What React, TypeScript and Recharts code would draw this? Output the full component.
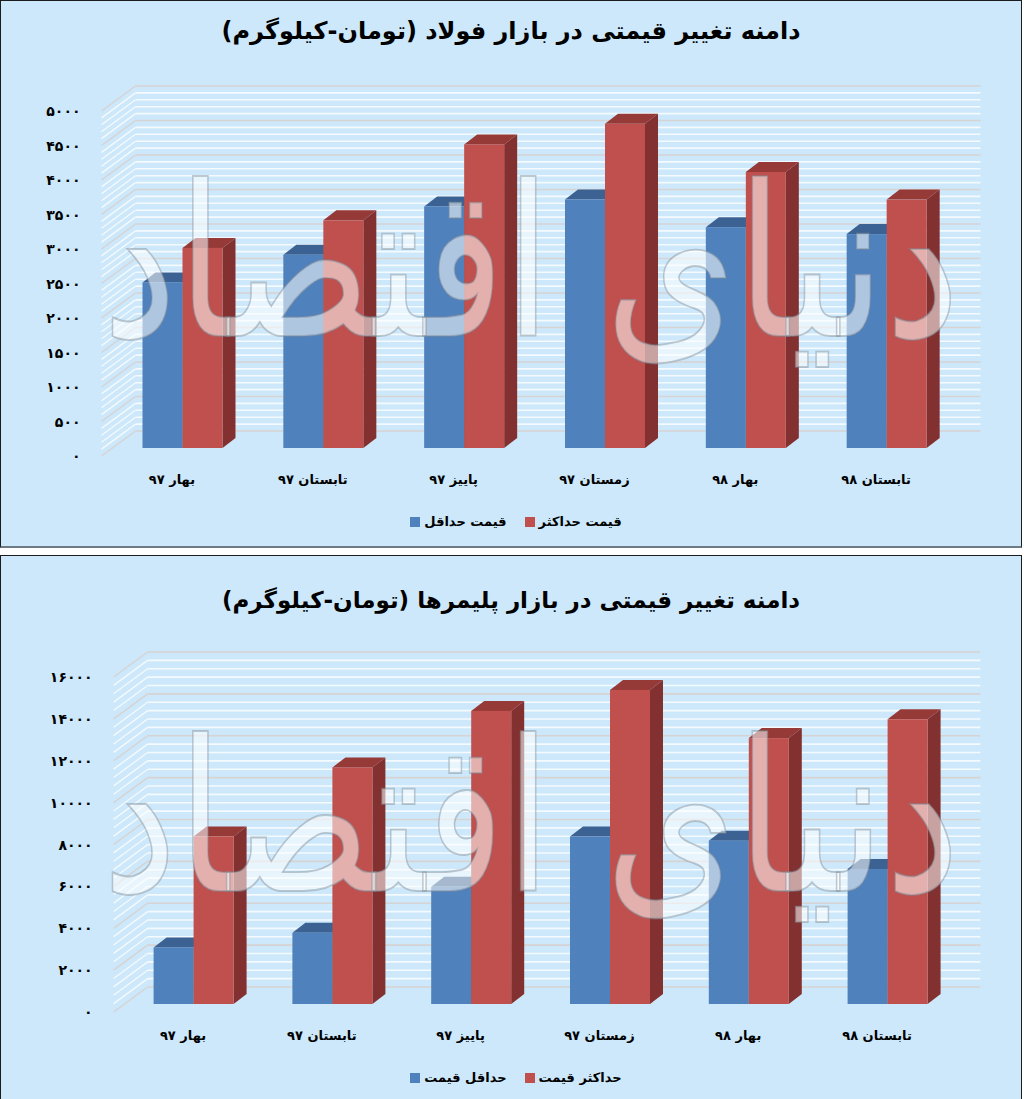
import { Bar, BarChart, XAxis, YAxis } from "recharts";

// Two 3D-look bar charts (steel / polymers), min vs max price per season.

const categories = ["بهار ۹۷", "تابستان ۹۷", "پاییز ۹۷", "زمستان ۹۷", "بهار ۹۸", "تابستان ۹۸"];

const steelMin = [2400, 2800, 3500, 3600, 3200, 3100];
const steelMax = [2900, 3300, 4400, 4700, 4000, 3600];
const steelTicks = [0, 500, 1000, 1500, 2000, 2500, 3000, 3500, 4000, 4500, 5000];
const steelTickLabels = ["۰", "۵۰۰", "۱۰۰۰", "۱۵۰۰", "۲۰۰۰", "۲۵۰۰", "۳۰۰۰", "۳۵۰۰", "۴۰۰۰", "۴۵۰۰", "۵۰۰۰"];

const polymerMin = [2700, 3400, 5600, 8000, 7800, 6450];
const polymerMax = [8000, 11300, 14000, 15000, 12700, 13600];
const polymerTicks = [0, 2000, 4000, 6000, 8000, 10000, 12000, 14000, 16000];
const polymerTickLabels = ["۰", "۲۰۰۰", "۴۰۰۰", "۶۰۰۰", "۸۰۰۰", "۱۰۰۰۰", "۱۲۰۰۰", "۱۴۰۰۰", "۱۶۰۰۰"];

const FONT = '"DejaVu Sans", Tahoma, sans-serif';
const BG = "#cce8fa";
const W = 1020;
const H = 545;
const AXIS_W = 60;
const AXIS_H = 30;

// depth offsets relative to the bars' front plane
const FLOOR_DX = -11;
const FLOOR_DY = 8;
const WALL_DX = 23;
const WALL_DY = -17;
const BOX_DX = 13;
const BOX_DY = 10;

const BLUE = { front: "#4f81bd", top: "#3b6292", side: "#2f4f78" };
const RED = { front: "#c0504d", top: "#963a38", side: "#833130" };

type Layout = {
  top: number;
  bottom: number;
  left: number;
  right: number;
  max: number;
  minor: number;
  ticks: number[];
  labels: string[];
  titleY: number;
  titleSize: number;
};

function Box3D(props: any) {
  const { x, y, width, height, colors } = props;
  if (!height || height <= 0) return <g />;
  const r = x + width;
  return (
    <g>
      <polygon
        points={`${x},${y} ${x + BOX_DX},${y - BOX_DY} ${r + BOX_DX},${y - BOX_DY} ${r},${y}`}
        fill={colors.top}
      />
      <polygon
        points={`${r},${y} ${r + BOX_DX},${y - BOX_DY} ${r + BOX_DX},${y + height - BOX_DY} ${r},${y + height}`}
        fill={colors.side}
      />
      <rect x={x} y={y} width={width} height={height} fill={colors.front} />
    </g>
  );
}

// every minor tick draws its back-wall stripe and side-wall stripe; majors also get a label
function WallTick(props: any) {
  const { y, payload, layout } = props;
  const L: Layout = layout;
  const v = payload.value;
  const idx = L.ticks.indexOf(v);
  const major = idx >= 0;
  const stroke = major ? "#d7d3d3" : "#f4fafe";
  return (
    <g>
      <line
        x1={L.left + WALL_DX}
        x2={L.right + WALL_DX}
        y1={y + WALL_DY}
        y2={y + WALL_DY}
        stroke={stroke}
        strokeWidth={1.6}
      />
      <line
        x1={L.left + FLOOR_DX}
        y1={y + FLOOR_DY}
        x2={L.left + WALL_DX}
        y2={y + WALL_DY}
        stroke={stroke}
        strokeWidth={1.4}
      />
      {major && (
        <text
          x={L.left + FLOOR_DX - 21}
          y={y + FLOOR_DY}
          textAnchor="end"
          dominantBaseline="central"
          fontFamily={FONT}
          fontWeight="bold"
          fontSize={14}
          letterSpacing={2.5}
          fill="#000"
        >
          {L.labels[idx]}
        </text>
      )}
    </g>
  );
}

function CategoryTick(props: any) {
  const { x, payload, layout } = props;
  return (
    <text
      x={x + FLOOR_DX}
      y={layout.bottom + 31}
      textAnchor="middle"
      dominantBaseline="central"
      fontFamily={FONT}
      fontWeight="bold"
      fontSize={13}
      fill="#000"
      direction="rtl"
    >
      {payload.value}
    </text>
  );
}

function Panel({
  title,
  layout,
  mins,
  maxs,
  minLabel,
  maxLabel,
  borderBottom,
}: {
  title: string;
  layout: Layout;
  mins: number[];
  maxs: number[];
  minLabel: string;
  maxLabel: string;
  borderBottom: string;
}) {
  const data = categories.map((name, i) => ({ name, min: mins[i], max: maxs[i] }));
  const minorTicks: number[] = [];
  for (let v = 0; v <= layout.max; v += layout.minor) minorTicks.push(v);
  const margin = {
    top: layout.top,
    bottom: H - layout.bottom,
    left: layout.left,
    right: W - layout.right,
  };
  // back chart keeps the default axis sizes, so its margins leave room for them
  const backMargin = {
    ...margin,
    bottom: margin.bottom - AXIS_H,
    left: margin.left - AXIS_W,
  };
  const domain: [number, number] = [0, layout.max];

  return (
    <div
      style={{
        position: "relative",
        width: W,
        height: H,
        background: BG,
        border: "1px solid #1c1c1c",
        borderBottom,
        overflow: "hidden",
      }}
    >
      <div
        style={{
          position: "absolute",
          top: layout.titleY - 16,
          left: 0,
          width: W,
          textAlign: "center",
          direction: "rtl",
          fontFamily: FONT,
          fontWeight: "bold",
          fontSize: layout.titleSize,
          lineHeight: "32px",
          color: "#000",
        }}
      >
        {title}
      </div>

      {/* walls, axis labels */}
      <div style={{ position: "absolute", left: 0, top: 0 }}>
        <BarChart width={W} height={H} data={data} margin={backMargin} barGap={0} barSize={40}>
          <XAxis
            dataKey="name"
            height={AXIS_H}
            axisLine={false}
            tickLine={false}
            interval={0}
            tick={(p: any) => <CategoryTick {...p} layout={layout} />}
          />
          <YAxis
            type="number"
            domain={domain}
            ticks={minorTicks}
            interval={0}
            width={AXIS_W}
            axisLine={false}
            tickLine={false}
            allowDataOverflow
            tick={(p: any) => <WallTick {...p} layout={layout} />}
          />
          <Bar dataKey="max" isAnimationActive={false} fill="transparent" />
        </BarChart>
      </div>

      {/* bars */}
      <div style={{ position: "absolute", left: 0, top: 0 }}>
        <BarChart width={W} height={H} data={data} margin={margin} barGap={0} barSize={40}>
          <XAxis dataKey="name" hide />
          <YAxis type="number" domain={domain} hide allowDataOverflow />
          <Bar
            dataKey="min"
            isAnimationActive={false}
            shape={(p: any) => <Box3D {...p} colors={BLUE} />}
          />
          <Bar
            dataKey="max"
            isAnimationActive={false}
            shape={(p: any) => <Box3D {...p} colors={RED} />}
          />
        </BarChart>
      </div>

      {/* watermark */}
      <svg
        width={W}
        height={H}
        style={{ position: "absolute", left: 0, top: 0, pointerEvents: "none" }}
      >
        <g transform="translate(530 335) scale(1 1.25)">
          <text
            x={0}
            y={0}
            textAnchor="middle"
            direction="rtl"
            fontFamily={FONT}
            fontSize={168}
            fill="#ffffff"
            fillOpacity={0.55}
            stroke="#7f8c96"
            strokeOpacity={0.45}
            strokeWidth={1.5}
          >
            دنیای اقتصاد
          </text>
        </g>
      </svg>

      {/* legend */}
      <div
        style={{
          position: "absolute",
          top: layout.bottom + 66,
          left: 0,
          width: 1030,
          display: "flex",
          justifyContent: "center",
          alignItems: "center",
          fontFamily: FONT,
          fontWeight: "bold",
          fontSize: 13,
          color: "#000",
        }}
      >
        <span style={{ width: 10, height: 10, background: BLUE.front, marginRight: 4 }} />
        <span style={{ direction: "rtl" }}>{minLabel}</span>
        <span style={{ width: 10, height: 10, background: RED.front, marginLeft: 18, marginRight: 4 }} />
        <span style={{ direction: "rtl" }}>{maxLabel}</span>
      </div>
    </div>
  );
}

const steelLayout: Layout = {
  top: 102,
  bottom: 447,
  left: 111.5,
  right: 956.5,
  max: 5000,
  minor: 100,
  ticks: steelTicks,
  labels: steelTickLabels,
  titleY: 30,
  titleSize: 24,
};

const polymerLayout: Layout = {
  top: 113,
  bottom: 448,
  left: 123.6,
  right: 956.4,
  max: 16000,
  minor: 400,
  ticks: polymerTicks,
  labels: polymerTickLabels,
  titleY: 44,
  titleSize: 23,
};

export default function App() {
  return (
    <div style={{ position: "absolute", left: 0, top: 0, width: 1024, background: "#fff" }}>
      <Panel
        title="دامنه تغییر قیمتی در بازار فولاد (تومان-کیلوگرم)"
        layout={steelLayout}
        mins={steelMin}
        maxs={steelMax}
        minLabel="قیمت حداقل"
        maxLabel="قیمت حداکثر"
        borderBottom="2px solid #6d7b86"
      />
      <div style={{ height: 7 }} />
      <Panel
        title="دامنه تغییر قیمتی در بازار پلیمرها (تومان-کیلوگرم)"
        layout={polymerLayout}
        mins={polymerMin}
        maxs={polymerMax}
        minLabel="حداقل قیمت"
        maxLabel="حداکثر قیمت"
        borderBottom="1px solid #1c1c1c"
      />
    </div>
  );
}
